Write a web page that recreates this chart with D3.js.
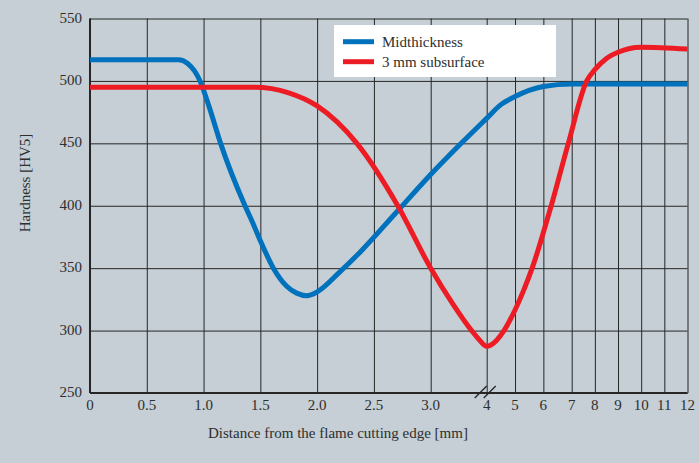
<!DOCTYPE html>
<html>
<head>
<meta charset="utf-8">
<script src="https://cdn.jsdelivr.net/npm/d3@7"></script>
<style>
  html, body { margin: 0; padding: 0; background: #c5cfd5; }
  svg { display: block; }
  text { font-family: "Liberation Serif", "DejaVu Serif", serif; fill: #2e2e2e; }
</style>
</head>
<body>
<div id="chart"></div>
<script>
// Tick positions and their labels
const xTicks = [0, 0.5, 1, 1.5, 2, 2.5, 3, 4, 5, 6, 7, 8, 9, 10, 11, 12];
const xTickLabels = ["0", "0.5", "1.0", "1.5", "2.0", "2.5", "3.0", "4", "5", "6", "7", "8", "9", "10", "11", "12"];
const yTicks = [250, 300, 350, 400, 450, 500, 550];

// Midthickness curve
const midX = [0, 0.5, 0.78, 0.86, 0.92, 0.969, 1.05, 1.15, 1.36, 1.425, 1.5, 1.615, 1.732, 1.82, 1.908, 2.0, 2.2, 2.38, 2.71, 3.0, 3.5, 4, 4.5, 5, 6, 7, 8, 10, 12];
const midHV = [517, 517, 517, 514, 508, 500, 479, 450, 401, 388, 372, 350, 335.5, 330, 328, 331, 347, 363, 396, 425, 448, 470, 481, 487.5, 495.5, 497.5, 497.5, 497.5, 497.5];

// 3 mm subsurface curve
const subX = [0, 1.0, 1.45, 1.75, 2.0, 2.35, 2.71, 3.0, 3.4, 3.73, 3.87, 4.0, 4.15, 4.61, 5.0, 5.3, 5.65, 6.0, 6.29, 6.88, 7.65, 8, 8.5, 9, 10, 12];
const subHV = [495, 495, 495, 490.5, 480, 450, 400, 350, 321, 300, 292.5, 287.5, 288.5, 300, 316.5, 332, 353, 378.5, 401, 450, 500, 509, 518, 523, 527, 525.5];

const seriesNames = ["Midthickness", "3 mm subsurface"];
const seriesColors = ["#0071bc", "#ed1c24"];

const width = 699;
const height = 463;
const margin = { top: 18.5, right: 11.5, bottom: 70, left: 90 };
const plotW = width - margin.left - margin.right;
const plotH = height - margin.top - margin.bottom;

const svg = d3.select("#chart")
    .append("svg")
    .attr("width", width)
    .attr("height", height);

const g = svg.append("g")
    .attr("transform", `translate(${margin.left},${margin.top})`);

// broken x axis: 0-3 wide, 3-4 squeezed in, 4-7 and 7-12 narrower
const x = d3.scaleLinear()
    .domain([0, 3, 4, 7, 12])
    .range([0, 340.7, 396.7, 481.7, plotW]);

const y = d3.scaleLinear()
    .domain([250, 550])
    .range([plotH, 0]);

// grid
g.append("g")
    .attr("class", "grid")
    .attr("transform", `translate(0,${plotH})`)
    .call(d3.axisBottom(x).tickValues(xTicks).tickSize(-plotH).tickFormat(""))
    .call(a => a.select(".domain").remove());

g.append("g")
    .attr("class", "grid")
    .call(d3.axisLeft(y).tickValues(yTicks).tickSize(-plotW).tickFormat(""))
    .call(a => a.select(".domain").remove());

g.selectAll(".grid line")
    .attr("stroke", "#262626")
    .attr("stroke-width", 1);

// heavier left and bottom axis lines
g.append("line")
    .attr("x1", 0).attr("x2", 0)
    .attr("y1", 0).attr("y2", plotH)
    .attr("stroke", "#262626").attr("stroke-width", 2);
g.append("line")
    .attr("x1", 0).attr("x2", plotW)
    .attr("y1", plotH).attr("y2", plotH)
    .attr("stroke", "#262626").attr("stroke-width", 2);

// tick labels
g.append("g")
    .selectAll("text")
    .data(xTicks)
    .join("text")
    .attr("x", d => x(d))
    .attr("y", plotH + 17)
    .attr("text-anchor", "middle")
    .style("font-size", "15px")
    .text((d, i) => xTickLabels[i]);

g.append("g")
    .selectAll("text")
    .data(yTicks)
    .join("text")
    .attr("x", -8)
    .attr("y", d => y(d) + 4)
    .attr("text-anchor", "end")
    .style("font-size", "15px")
    .text(d => d);

// axis break marks at 4
const bx = x(4);
[-12, -3].forEach(off => {
    g.append("line")
        .attr("x1", bx + off).attr("y1", plotH + 5)
        .attr("x2", bx + off + 12).attr("y2", plotH - 7)
        .attr("stroke", "#262626").attr("stroke-width", 1.3);
});

// axis titles
svg.append("text")
    .attr("x", 338)
    .attr("y", 438)
    .attr("text-anchor", "middle")
    .style("font-size", "15px")
    .text("Distance from the flame cutting edge [mm]");

svg.append("text")
    .attr("transform", "translate(30,183) rotate(-90)")
    .attr("text-anchor", "middle")
    .style("font-size", "15px")
    .text("Hardness [HV5]");

// curves
const line = d3.line()
    .x(d => x(d[0]))
    .y(d => y(d[1]))
    .curve(d3.curveMonotoneX);

const series = [
    d3.zip(midX, midHV),
    d3.zip(subX, subHV)
];

g.selectAll(".curve")
    .data(series)
    .join("path")
    .attr("class", "curve")
    .attr("fill", "none")
    .attr("stroke", (d, i) => seriesColors[i])
    .attr("stroke-width", 5)
    .attr("stroke-linejoin", "round")
    .attr("d", line);

// legend
const legend = svg.append("g").attr("transform", "translate(334,25)");
legend.append("rect")
    .attr("width", 222)
    .attr("height", 52)
    .attr("fill", "#ffffff");

const item = legend.selectAll(".item")
    .data(seriesNames)
    .join("g")
    .attr("class", "item")
    .attr("transform", (d, i) => `translate(0,${16.7 + i * 20})`);

item.append("line")
    .attr("x1", 9).attr("x2", 40)
    .attr("stroke", (d, i) => seriesColors[i])
    .attr("stroke-width", 5);

item.append("text")
    .attr("x", 48)
    .attr("y", 5)
    .style("font-size", "15px")
    .text(d => d);
</script>
</body>
</html>
